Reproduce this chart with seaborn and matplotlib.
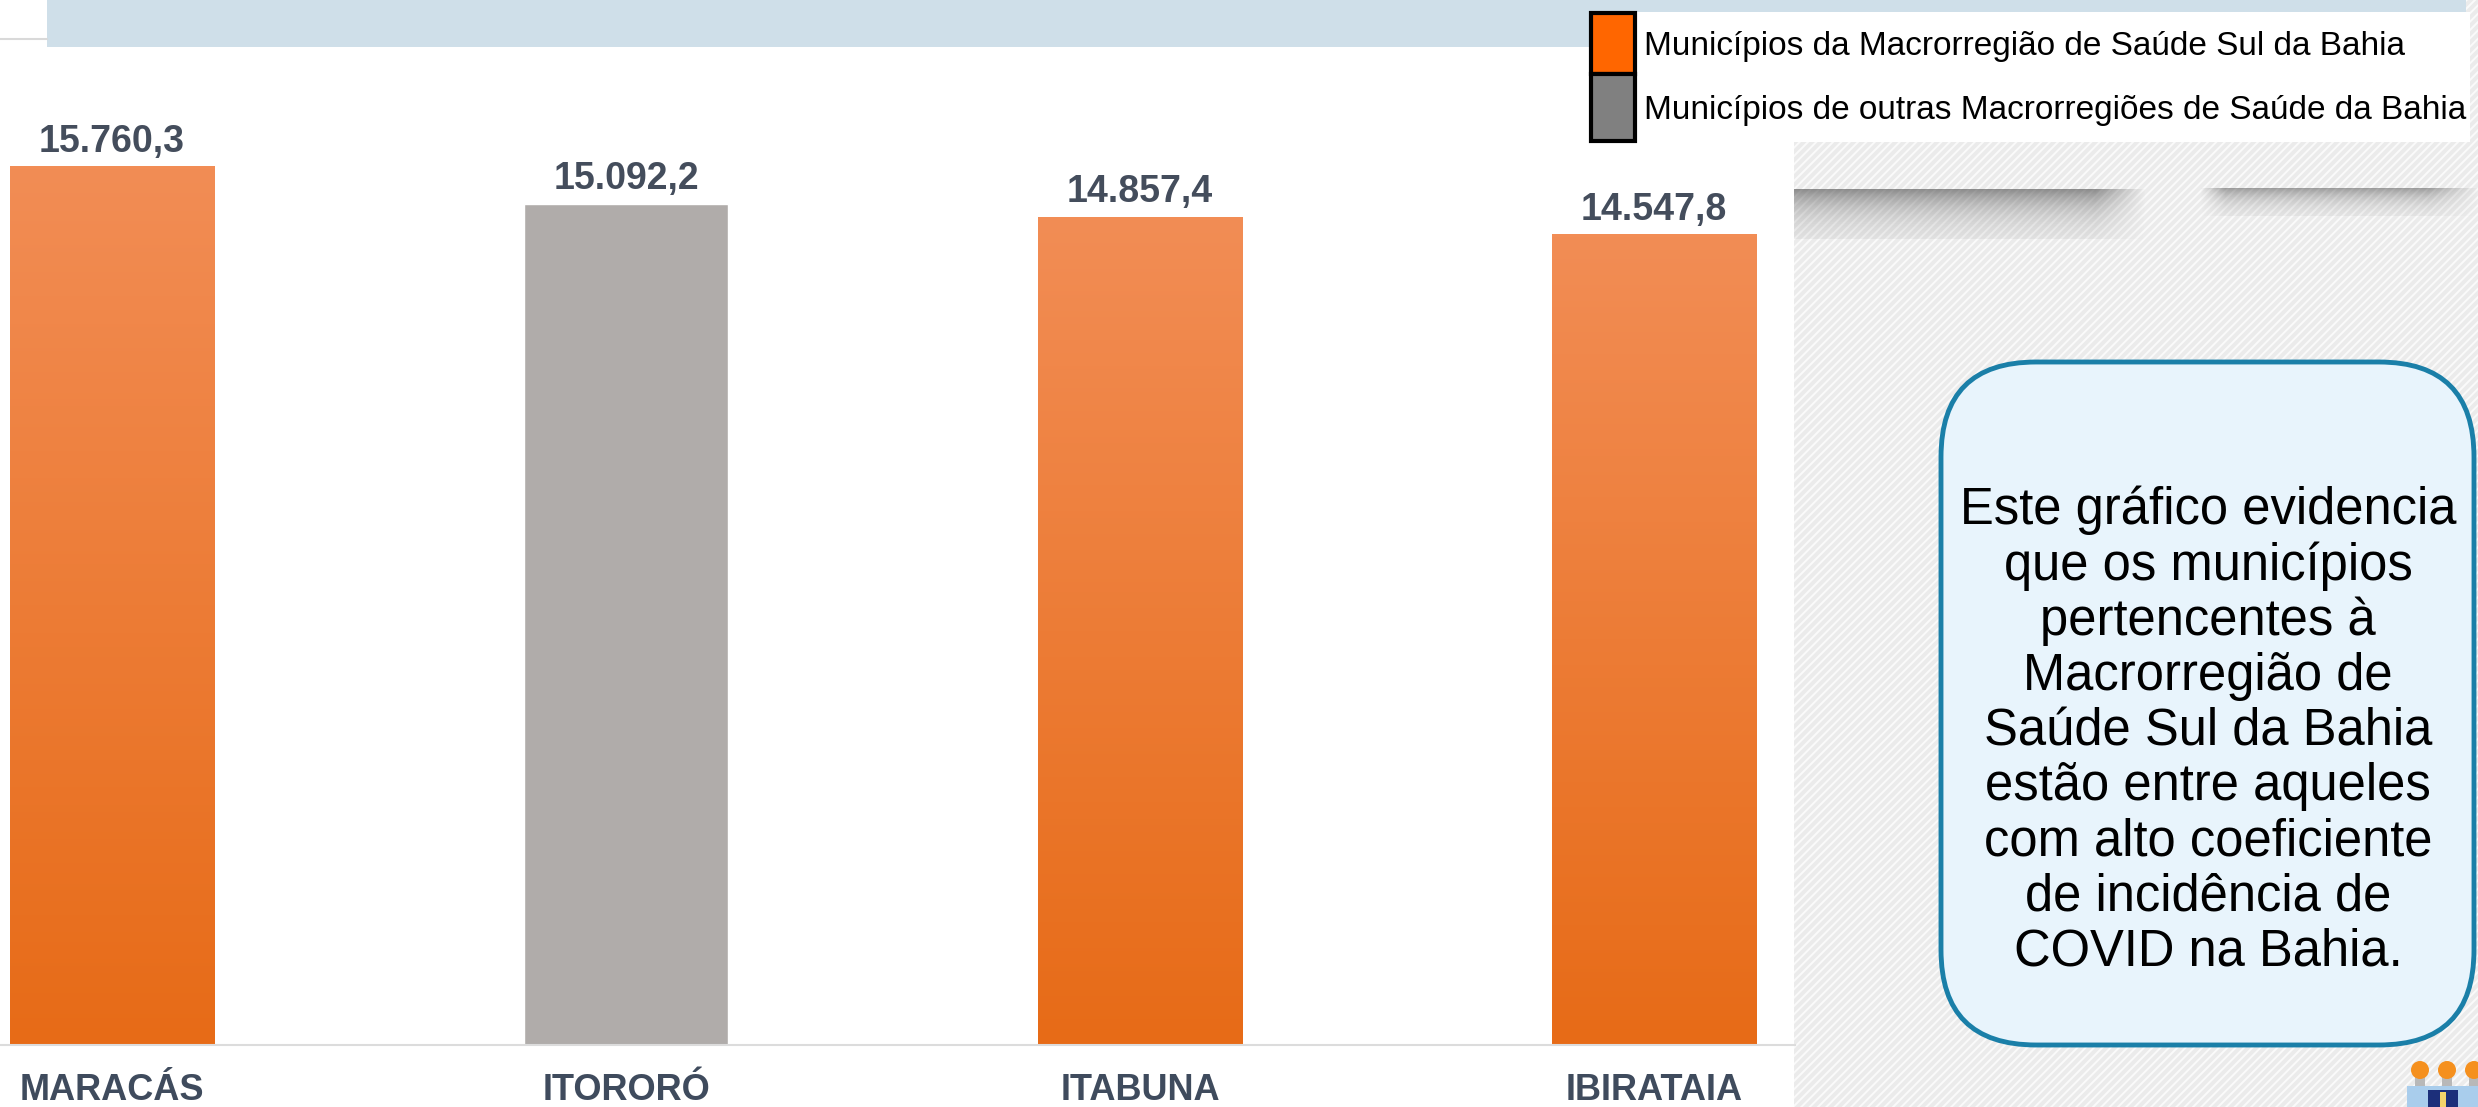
import numpy as np
import pandas as pd
import seaborn as sns
import matplotlib.pyplot as plt
from matplotlib.patches import Rectangle, FancyBboxPatch, Circle

# Data
municipios = ['MARACÁS', 'ITORORÓ', 'ITABUNA', 'IBIRATAIA']
coef_incidencia = [15760.3, 15092.2, 14857.4, 14547.8]
grupo = ['Sul', 'Outras', 'Sul', 'Sul']
legend_labels = ['Municípios da Macrorregião de Saúde Sul da Bahia',
                 'Municípios de outras Macrorregiões de Saúde da Bahia']
box_text = ('Este gráfico evidencia\nque os municípios\npertencentes à\n'
            'Macrorregião de\nSaúde Sul da Bahia\nestão entre aqueles\n'
            'com alto coeficiente\nde incidência de\nCOVID na Bahia.')

sns.set_style('white')
plt.rcParams['font.family'] = ['Liberation Sans', 'DejaVu Sans']
plt.rcParams['hatch.linewidth'] = 1.4

W, H = 2478, 1107
fig = plt.figure(figsize=(W / 100, H / 100), dpi=100)

# background layer, pixel coordinates with y going down
bg = fig.add_axes([0, 0, 1, 1])
bg.axis('off')

# top band and the little line on the left
bg.add_patch(Rectangle((47, 0), 2423, 47, fc='#cfdfe9', lw=0))
bg.plot([0, 47], [39, 39], color='#d9d9d9', lw=1.5)

# hatched panel on the right
bg.add_patch(Rectangle((1794, 142), W - 1794, H - 142, fc='#ebebeb',
                       ec='#fafafa', hatch='////', lw=0))
bg.add_patch(Rectangle((2466, 0), 12, 142, fc='#ebebeb',
                       ec='#fafafa', hatch='////', lw=0))


def shadow(x0, x1, y0, depth, strength, fade_left=0):
    xs = np.arange(x0, x1)
    ys = np.arange(y0, y0 + depth)
    ax_fade = np.clip((x1 - xs) / 50, 0, 1)
    if fade_left:
        ax_fade *= np.clip((xs - x0) / fade_left, 0, 1)
    ay = np.exp(-(ys - y0) / (depth / 2.2))
    img = np.zeros((len(ys), len(xs), 4))
    img[..., :3] = 0.3
    img[..., 3] = strength * ay[:, None] * ax_fade[None, :]
    bg.imshow(img, extent=[x0, x1, y0 + depth, y0], interpolation='bilinear',
              zorder=2)


shadow(1794, 2145, 189, 50, 0.6)
shadow(2200, W, 188, 28, 0.5, fade_left=25)

# legend
bg.add_patch(Rectangle((1590, 12), 880, 130, fc='white', lw=0))
bg.add_patch(Rectangle((1591, 13), 44, 61, fc='#ff6600', ec='black', lw=3))
bg.add_patch(Rectangle((1591, 74), 44, 67, fc='#808080', ec='black', lw=3))
bg.text(1644, 47, legend_labels[0], va='center', fontsize=24, color='black')
bg.text(1644, 110, legend_labels[1], va='center', fontsize=24, color='black')

# rounded text box
bg.add_patch(FancyBboxPatch((1941, 362), 533, 683,
                            boxstyle='round,pad=0,rounding_size=95',
                            fc='#e8f4fc', ec='#1a7fa8', lw=3.5, zorder=3))
bg.text(2208, 731, box_text, ha='center', va='center', fontsize=36.5,
        linespacing=1.16, multialignment='center', color='black', zorder=4)

# small logo in the corner
for cx in [2420, 2447, 2474]:
    bg.add_patch(Rectangle((cx - 5, 1074), 10, 12, fc='#b8b8b8', lw=0, zorder=3))
    bg.add_patch(Circle((cx, 1070), 9, fc='#f5901e', lw=0, zorder=3))
bg.add_patch(Rectangle((2407, 1086), 71, 21, fc='#a9cdec', lw=0, zorder=3))
bg.add_patch(Rectangle((2428, 1090), 30, 17, fc='#1c2f7a', lw=0, zorder=3))
bg.add_patch(Rectangle((2440, 1092), 6, 15, fc='#f2d36b', lw=0, zorder=3))

bg.set_xlim(0, W)
bg.set_ylim(H, 0)

# main chart
base_y, top_y, right_x = 1045, 47, 1795
ax = fig.add_axes([0, (H - base_y) / H, right_x / W, (base_y - top_y) / H])
ax.set_facecolor('none')

df = pd.DataFrame({'municipio': municipios, 'coef': coef_incidencia, 'grupo': grupo})
sns.barplot(data=df, x='municipio', y='coef', hue='grupo', dodge=False,
            palette={'Sul': '#ec7b35', 'Outras': '#b0acaa'}, width=0.397,
            saturation=1, legend=False, ax=ax)

# vertical orange gradient on the Sul bars
grad_top = np.array([242, 141, 85]) / 255
grad_bot = np.array([231, 107, 23]) / 255
t = np.linspace(0, 1, 256)[:, None]
grad = (grad_top[None, :] * (1 - t) + grad_bot[None, :] * t)[:, None, :]
for p in list(ax.patches):
    i = int(round(p.get_x() + p.get_width() / 2))
    if grupo[i] != 'Sul':
        continue
    x0 = p.get_x()
    ax.imshow(grad, extent=[x0, x0 + p.get_width(), 0, p.get_height()],
              aspect='auto', clip_path=p, zorder=p.get_zorder() + 0.1)


def fmt_br(v):
    return f'{v:,.1f}'.replace(',', 'X').replace('.', ',').replace('X', '.')


for i, v in enumerate(coef_incidencia):
    ax.annotate(fmt_br(v), (i, v), xytext=(0, 5), textcoords='offset points',
                ha='center', va='bottom', fontsize=27, fontweight='bold',
                color='#444d5c')

ax.set_xlim(-0.218, 3.274)
ax.set_ylim(0, 17914)
ax.set_xlabel('')
ax.set_ylabel('')
ax.set_yticks([])
ax.tick_params(axis='x', length=0, pad=20, labelsize=26, labelcolor='#3f4b5d')
for lbl in ax.get_xticklabels():
    lbl.set_fontweight('bold')
for s in ['top', 'left', 'right']:
    ax.spines[s].set_visible(False)
ax.spines['bottom'].set_color('#dcdcdc')
ax.spines['bottom'].set_linewidth(1.5)

fig.savefig('out.png', dpi=100)
